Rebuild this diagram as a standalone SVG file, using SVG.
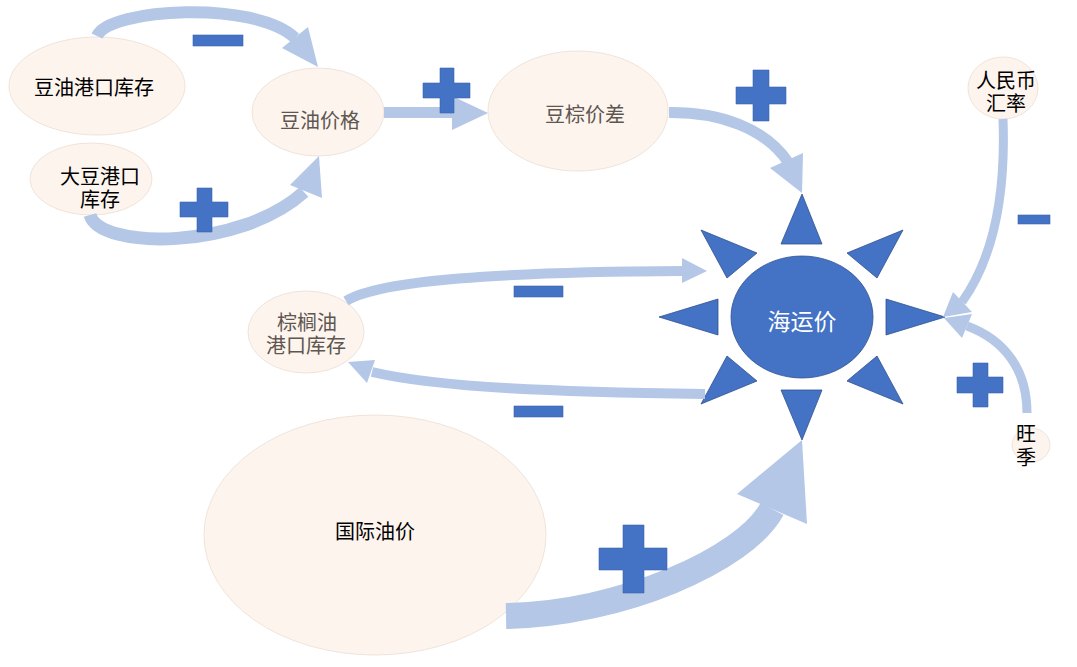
<svg xmlns="http://www.w3.org/2000/svg" width="1077" height="667" viewBox="0 0 1077 667">
<style>
.bg{fill:#ffffff}
.nd{fill:#FDF4EE;stroke:#EFE4DB;stroke-width:1}
.t{font-family:"Microsoft YaHei","Noto Sans CJK SC",sans-serif;font-size:20px;text-anchor:middle;dominant-baseline:central;fill:#000}
.tg{fill:#5E5650}
.tw{fill:#ffffff;font-size:23px}
.sun{fill:#4472C4;stroke:#2F528F;stroke-width:0.8}
.ln{fill:none;stroke:#B4C7E7}
.hd{fill:#B4C7E7}
.sg{fill:#4472C4;stroke:#3A64B0;stroke-width:0.6}
</style>
<rect class="bg" x="0" y="0" width="1077" height="667"/>
<g id="nodes">
  <g id="n-douyou-kucun"><ellipse class="nd" cx="97" cy="86" rx="88" ry="49"/><text class="t" x="94" y="86">豆油港口库存</text></g>
  <g id="n-dadou-kucun"><ellipse class="nd" cx="91" cy="179" rx="61" ry="36"/><text class="t"><tspan x="100" y="175">大豆港口</tspan><tspan x="100" y="198">库存</tspan></text></g>
  <g id="n-douyou-jiage"><ellipse class="nd" cx="318" cy="112" rx="66" ry="44"/><text class="t tg" x="320" y="119">豆油价格</text></g>
  <g id="n-douzong-jiacha"><ellipse class="nd" cx="578" cy="111" rx="90" ry="60"/><text class="t tg" x="585" y="113">豆棕价差</text></g>
  <g id="n-haiyunjia">
    <polygon class="sun" points="802,194 781,244 822,244"/>
    <polygon class="sun" points="802,440 781,390 822,390"/>
    <polygon class="sun" points="659,317 718,299 718,335"/>
    <polygon class="sun" points="945,317 886,299 886,335"/>
    <polygon class="sun" points="701,230 757,253 727,278"/>
    <polygon class="sun" points="903,230 847,253 877,278"/>
    <polygon class="sun" points="727,356 757,381 701,404"/>
    <polygon class="sun" points="877,356 847,381 903,404"/>
    <ellipse class="sun" cx="802" cy="317" rx="71" ry="61"/>
    <text class="t tw" x="802" y="320">海运价</text>
  </g>
  <g id="n-rmb-huilv"><ellipse class="nd" cx="1003" cy="88" rx="35" ry="31"/><text class="t"><tspan x="1006" y="79">人民币</tspan><tspan x="1006" y="102">汇率</tspan></text></g>
  <g id="n-wangji"><ellipse class="nd" cx="1031" cy="445" rx="19" ry="17"/><text class="t"><tspan x="1026" y="432">旺</tspan><tspan x="1026" y="456">季</tspan></text></g>
  <g id="n-zonglv-kucun"><ellipse class="nd" cx="306" cy="332" rx="58" ry="41"/><text class="t tg"><tspan x="307" y="321">棕榈油</tspan><tspan x="306" y="344">港口库存</tspan></text></g>
  <g id="n-guoji-youjia"><ellipse class="nd" cx="375" cy="535" rx="171" ry="120"/><text class="t" x="375" y="530">国际油价</text></g>
</g>
<g id="connectors">
  <path class="ln" stroke-width="12" d="M97 36 C110 8 255 0 295 38"/>
  <polygon class="hd" points="318,67 282,48 308,27"/>
  <path class="ln" stroke-width="13" d="M90 215 C100 250 240 250 304 192"/>
  <polygon class="hd" points="319,156 290,185 322,198"/>
  <path class="ln" stroke-width="11" d="M384 112.5 L454 112.5"/>
  <polygon class="hd" points="452,96 488,113 452,130"/>
  <path class="ln" stroke-width="11" d="M669 112.5 C720 112 765 128 788 162"/>
  <polygon class="hd" points="802,193 770,168 803,153"/>
  <path class="ln" stroke-width="10" d="M346 301 C380 280 500 272 684 271"/>
  <polygon class="hd" points="707,271 682,258 682,283"/>
  <path class="ln" stroke-width="10" d="M705 394 C560 392 440 388 372 372"/>
  <polygon class="hd" points="348,362 367,383 375,360"/>
  <path class="ln" stroke-width="9" d="M1003 119 C1006 200 992 260 962 302"/>
  <polygon class="hd" points="943,317 953,292 972,312"/>
  <path class="ln" stroke-width="9" d="M1027 413 C1027 370 1005 340 967 326"/>
  <polygon class="hd" points="944,318 962,338 972,314"/>
  <path class="ln" stroke-width="26" d="M506 616 C620 614 745 560 772 509"/>
  <polygon class="hd" points="737,494 802,440 807,524"/>
</g>
<g id="signs">
  <rect class="sg" x="193" y="35" width="50" height="11"/>
  <path class="sg" d="M197 188 H212 V202 H228 V217 H212 V232 H197 V217 H180 V202 H197 Z"/>
  <path class="sg" d="M440 68 H454 V83 H470 V98 H454 V113 H440 V98 H423 V83 H440 Z"/>
  <path class="sg" d="M753 70 H769 V87 H786 V104 H769 V121 H753 V104 H736 V87 H753 Z"/>
  <rect class="sg" x="514" y="286" width="49" height="11"/>
  <rect class="sg" x="514" y="406" width="49" height="11"/>
  <rect class="sg" x="1018" y="215" width="32" height="9"/>
  <path class="sg" d="M973 363 H988 V377 H1003 V393 H988 V407 H973 V393 H957 V377 H973 Z"/>
  <path class="sg" d="M623 525 H644 V548 H667 V570 H644 V593 H623 V570 H599 V548 H623 Z"/>
</g>
</svg>
